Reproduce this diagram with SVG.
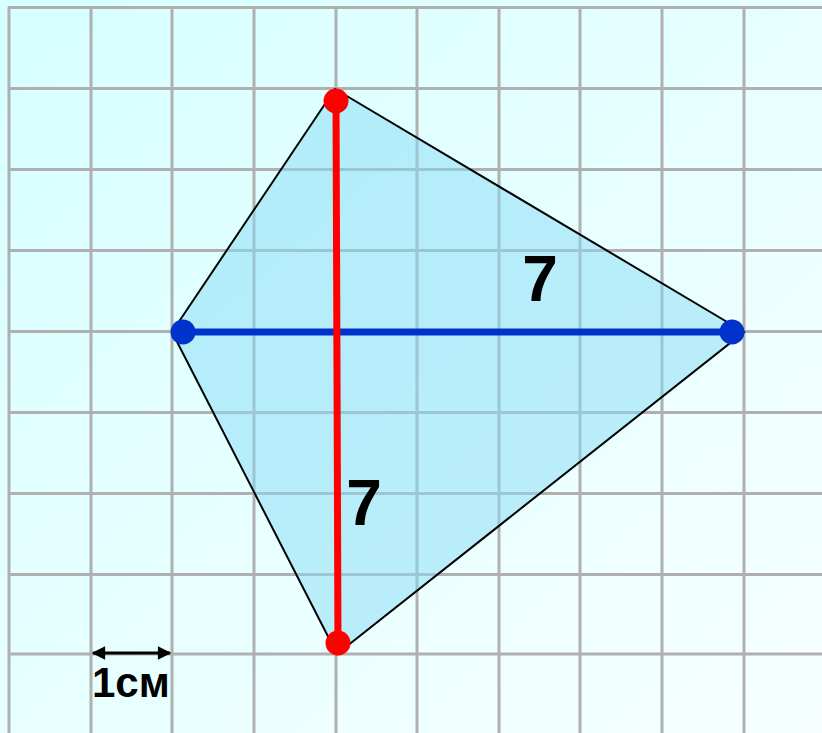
<svg xmlns="http://www.w3.org/2000/svg" width="822" height="733" viewBox="0 0 822 733">
<defs>
<linearGradient id="bg" x1="0" y1="0" x2="1" y2="1">
<stop offset="0" stop-color="#d6ffff"/>
<stop offset="1" stop-color="#f7ffff"/>
</linearGradient>
<marker id="ah" viewBox="0 0 10 10" refX="9" refY="5" markerWidth="6" markerHeight="4.5" orient="auto-start-reverse" markerUnits="strokeWidth">
<path d="M0,0 L10,5 L0,10 z" fill="#000"/>
</marker>
<style>
.g{stroke:#b0b0b0;stroke-width:3}
.t{font-family:"Liberation Sans",Arial,sans-serif;font-weight:bold;fill:#000}
</style>
</defs>
<rect width="822" height="733" fill="url(#bg)"/>
<g id="grid" class="g">
<line x1="9" y1="7" x2="9" y2="733"/>
<line x1="91" y1="7" x2="91" y2="733"/>
<line x1="172" y1="7" x2="172" y2="733"/>
<line x1="254" y1="7" x2="254" y2="733"/>
<line x1="336" y1="7" x2="336" y2="733"/>
<line x1="417" y1="7" x2="417" y2="733"/>
<line x1="499" y1="7" x2="499" y2="733"/>
<line x1="580" y1="7" x2="580" y2="733"/>
<line x1="662" y1="7" x2="662" y2="733"/>
<line x1="744" y1="7" x2="744" y2="733"/>
<line x1="8" y1="7.5" x2="822" y2="7.5"/>
<line x1="8" y1="88.5" x2="822" y2="88.5"/>
<line x1="8" y1="169.5" x2="822" y2="169.5"/>
<line x1="8" y1="250.5" x2="822" y2="250.5"/>
<line x1="8" y1="331.5" x2="822" y2="331.5"/>
<line x1="8" y1="412.5" x2="822" y2="412.5"/>
<line x1="8" y1="493.5" x2="822" y2="493.5"/>
<line x1="8" y1="574.5" x2="822" y2="574.5"/>
<line x1="8" y1="654" x2="822" y2="654"/>
</g>
<g id="kite">
<polygon points="335,89 744,332 337,654 172,332" fill="#88dcf5" fill-opacity="0.5" stroke="#000" stroke-width="2" stroke-linejoin="miter"/>
</g>
<g id="connectors">
<line x1="183" y1="332" x2="732" y2="332" stroke="#0033cc" stroke-width="7"/>
<line x1="336" y1="101" x2="338" y2="643" stroke="#ff0000" stroke-width="7"/>
<line x1="93" y1="653" x2="170" y2="653" stroke="#000" stroke-width="3" marker-start="url(#ah)" marker-end="url(#ah)"/>
</g>
<g id="points">
<circle cx="183" cy="332" r="12.5" fill="#0033cc"/>
<circle cx="732" cy="332" r="12.5" fill="#0033cc"/>
<circle cx="336" cy="101" r="12.5" fill="#ff0000"/>
<circle cx="338" cy="643" r="12.5" fill="#ff0000"/>
</g>
<g id="labels">
<text class="t" x="540" y="301" font-size="64" text-anchor="middle">7</text>
<text class="t" x="364" y="525" font-size="64" text-anchor="middle">7</text>
<text class="t" x="92" y="697" font-size="42">1см</text>
</g>
</svg>
